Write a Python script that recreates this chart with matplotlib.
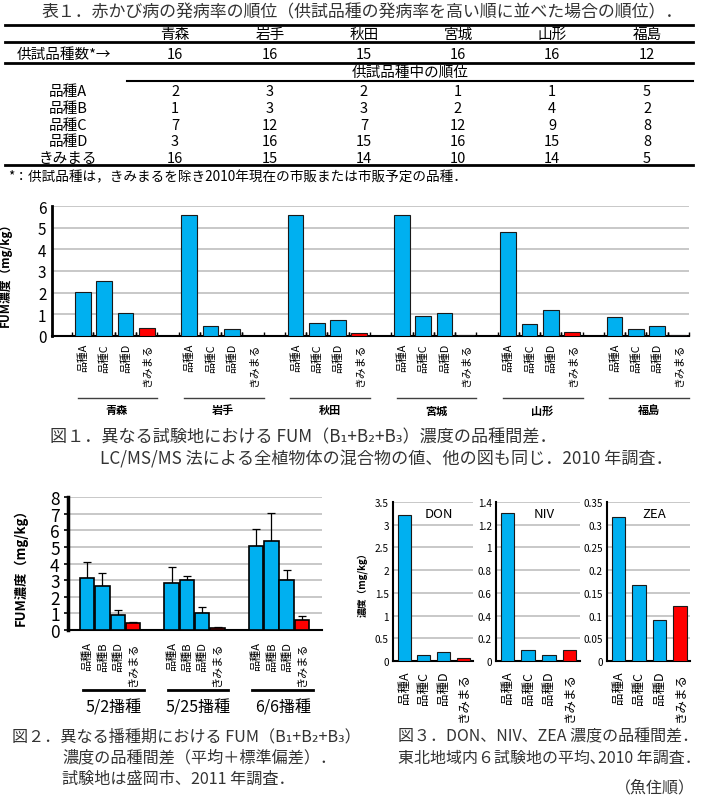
import numpy as np
import matplotlib
matplotlib.use('Agg')
from matplotlib import pyplot as plt

plt.rcParams['font.family'] = ['Noto Sans CJK JP', 'DejaVu Sans']

W, H = 705, 803

# ---- table 1 data ----
prefs = ['青森', '岩手', '秋田', '宮城', '山形', '福島']
n_tested = [16, 16, 15, 16, 16, 12]
table_rows = ['品種A', '品種B', '品種C', '品種D', 'きみまる']
rank_A = [2, 3, 2, 1, 1, 5]
rank_B = [1, 3, 3, 2, 4, 2]
rank_C = [7, 12, 7, 12, 9, 8]
rank_D = [3, 16, 15, 16, 15, 8]
rank_kimi = [16, 15, 14, 10, 14, 5]

# ---- figure 1 data (FUM by site) ----
fig1_cultivars = ['品種A', '品種C', '品種D', 'きみまる']
fig1_A = [2.03, 5.58, 5.57, 5.60, 4.80, 0.89]
fig1_C = [2.52, 0.48, 0.62, 0.93, 0.57, 0.33]
fig1_D = [1.08, 0.33, 0.73, 1.05, 1.21, 0.48]
fig1_kimi = [0.39, 0.02, 0.16, 0.04, 0.17, 0.03]

# ---- figure 2 data (FUM by sowing date, mean and sd) ----
sowing = ['5/2播種', '5/25播種', '6/6播種']
fig2_cultivars = ['品種A', '品種B', '品種D', 'きみまる']
fig2_A = [3.15, 2.80, 5.08]
fig2_A_sd = [0.96, 0.97, 0.97]
fig2_B = [2.64, 3.02, 5.34]
fig2_B_sd = [0.77, 0.25, 1.70]
fig2_D = [0.93, 1.03, 3.00]
fig2_D_sd = [0.28, 0.36, 0.63]
fig2_kimi = [0.40, 0.14, 0.60]
fig2_kimi_sd = [0.08, 0.06, 0.25]

# ---- figure 3 data (DON, NIV, ZEA) ----
fig3_cultivars = ['品種A', '品種C', '品種D', 'きみまる']
don = [3.21, 0.14, 0.20, 0.07]
niv = [1.30, 0.094, 0.05, 0.094]
zea = [0.317, 0.167, 0.090, 0.122]

BLUE = '#00B0F0'
RED = '#FF0000'
EDGE = '#1a1a1a'
GRID = '#BFBFBF'
CAP = '#333333'

fig = plt.figure(figsize=(W / 100, H / 100), dpi=100)

# overlay axes in pixel coordinates for table and captions
ax0 = fig.add_axes([0, 0, 1, 1])
ax0.set_xlim(0, W)
ax0.set_ylim(H, 0)
ax0.axis('off')


def ax_px(l, t, r, b):
    return fig.add_axes([l / W, 1 - b / H, (r - l) / W, (b - t) / H])


# ================= table 1 =================
ax0.text(42, 12, '表１．赤かび病の発病率の順位（供試品種の発病率を高い順に並べた場合の順位）．',
         fontsize=12.2, va='center', ha='left', color=CAP)
for y, x0, lw in [(26, 5, 2), (43, 5, 2), (64, 5, 2), (82, 127, 1.5), (166, 5, 2)]:
    ax0.plot([x0, 693], [y, y], color='black', lw=lw)

col_x = [175, 270, 364, 458, 552, 647]
for x, p in zip(col_x, prefs):
    ax0.text(x, 35, p, fontsize=10.5, ha='center', va='center')
ax0.text(64, 55, '供試品種数*→', fontsize=10.5, ha='center', va='center')
for x, n in zip(col_x, n_tested):
    ax0.text(x, 55, str(n), fontsize=10.5, ha='center', va='center')
ax0.text(410, 73, '供試品種中の順位', fontsize=10.5, ha='center', va='center')
all_ranks = [rank_A, rank_B, rank_C, rank_D, rank_kimi]
row_y = [92, 109, 126, 142, 159]
for y, lab, r in zip(row_y, table_rows, all_ranks):
    ax0.text(68, y, lab, fontsize=10.5, ha='center', va='center')
    for x, v in zip(col_x, r):
        ax0.text(x, y, str(v), fontsize=10.5, ha='center', va='center')
ax0.text(8, 177, '*：供試品種は，きみまるを除き2010年現在の市販または市販予定の品種．',
         fontsize=9.8, ha='left', va='center')

# ================= figure 1 =================
ax1 = ax_px(52, 207, 689, 337)
vals1 = [fig1_A, fig1_C, fig1_D, fig1_kimi]
xs1, hs1, cs1, labs1 = [], [], [], []
for g in range(len(prefs)):
    for i in range(4):
        xs1.append(5 * g + i)
        hs1.append(vals1[i][g])
        cs1.append(RED if i == 3 else BLUE)
        labs1.append(fig1_cultivars[i])
ax1.bar(xs1, hs1, width=0.74, color=cs1, edgecolor=EDGE, lw=0.8, zorder=3)
ax1.set_xlim(-1.45, 28.5)
ax1.set_ylim(0, 6)
ax1.set_yticks(range(7))
ax1.tick_params(axis='y', labelsize=11, length=0, pad=4)
ax1.set_xticks(xs1)
ax1.set_xticklabels(labs1, rotation=90, fontsize=7.8)
ax1.tick_params(axis='x', length=0, pad=5)
ax1.set_xticks([x + d for x in xs1 for d in (-0.5, 0.5)], minor=True)
ax1.tick_params(axis='x', which='minor', length=3, direction='in', width=1)
ax1.grid(axis='y', color=GRID, lw=1.2, zorder=0)
for s in ['top', 'right']:
    ax1.spines[s].set_visible(False)
ax1.spines['left'].set_linewidth(2)
ax1.spines['bottom'].set_linewidth(1.5)
ax1.set_ylabel('FUM濃度（mg/kg）', fontsize=8.5, fontweight='bold')
ax1.yaxis.set_label_coords(-0.063, 0.5)
tr1 = ax1.get_xaxis_transform()
for g, p in enumerate(prefs):
    ax1.plot([5 * g - 0.25, 5 * g + 3.5], [-0.477, -0.477], color='#404040', lw=1,
             transform=tr1, clip_on=False)
    ax1.text(5 * g + 1.6, -0.569, p, transform=tr1, ha='center', va='center',
             fontsize=8, fontweight='bold')

ax0.text(50, 437, '図１．異なる試験地における FUM（B₁+B₂+B₃）濃度の品種間差．',
         fontsize=12.3, ha='left', va='center', color=CAP)
ax0.text(100, 459, 'LC/MS/MS 法による全植物体の混合物の値、他の図も同じ．2010 年調査．',
         fontsize=12.3, ha='left', va='center', color=CAP)

# ================= figure 2 =================
ax2 = ax_px(68, 498, 322, 631)
vals2 = [fig2_A, fig2_B, fig2_D, fig2_kimi]
sds2 = [fig2_A_sd, fig2_B_sd, fig2_D_sd, fig2_kimi_sd]
xs2, hs2, es2, cs2, labs2 = [], [], [], [], []
for g in range(len(sowing)):
    for i in range(4):
        xs2.append(5.5 * g + i)
        hs2.append(vals2[i][g])
        es2.append(sds2[i][g])
        cs2.append(RED if i == 3 else BLUE)
        labs2.append(fig2_cultivars[i])
ax2.errorbar(xs2, hs2, yerr=[np.zeros(len(es2)), es2], fmt='none', ecolor='black',
             elinewidth=0.9, capsize=3, capthick=0.9, zorder=2)
ax2.bar(xs2, hs2, width=0.94, color=cs2, edgecolor='black', lw=1.2, zorder=3)
ax2.set_xlim(-1.24, 15.3)
ax2.set_ylim(0, 8)
ax2.set_yticks(range(9))
ax2.tick_params(axis='y', labelsize=12.5, length=3, width=1.2, pad=3)
ax2.set_xticks(xs2)
ax2.set_xticklabels(labs2, rotation=90, fontsize=8)
ax2.tick_params(axis='x', length=0, pad=8)
ax2.grid(axis='y', color=GRID, lw=1.2, zorder=0)
for s in ['top', 'right']:
    ax2.spines[s].set_visible(False)
ax2.spines['left'].set_linewidth(2.5)
ax2.spines['bottom'].set_linewidth(1.5)
ax2.set_ylabel('FUM濃度（mg/kg）', fontsize=9.5, fontweight='bold')
ax2.yaxis.set_label_coords(-0.157, 0.5)
tr2 = ax2.get_xaxis_transform()
for g, s in enumerate(sowing):
    ax2.plot([5.5 * g - 0.25, 5.5 * g + 3.7], [-0.451, -0.451], color='black', lw=2,
             transform=tr2, clip_on=False)
    ax2.text(5.5 * g + 1.75, -0.579, s, transform=tr2, ha='center', va='center',
             fontsize=11.5)

ax0.text(12, 737, '図２．異なる播種期における FUM（B₁+B₂+B₃）',
         fontsize=11.6, ha='left', va='center', color=CAP)
ax0.text(62, 758, '濃度の品種間差（平均＋標準偏差）．',
         fontsize=11.6, ha='left', va='center', color=CAP)
ax0.text(62, 779, '試験地は盛岡市、2011 年調査．',
         fontsize=11.6, ha='left', va='center', color=CAP)

# ================= figure 3 =================
fig3_sets = [
    ('DON', don, (393, 473), np.arange(0, 3.51, 0.5), 3.5),
    ('NIV', niv, (496, 580), np.arange(0, 1.41, 0.2), 1.4),
    ('ZEA', zea, (607, 690), np.arange(0, 0.351, 0.05), 0.35),
]
for k, (name, vals, (l, r), ticks, top) in enumerate(fig3_sets):
    ax = ax_px(l, 503, r, 662)
    xs = np.arange(len(vals))
    ax.bar(xs, vals, width=0.66, color=[BLUE, BLUE, BLUE, RED], edgecolor=EDGE,
           lw=0.8, zorder=3)
    ax.set_xlim(-0.56, 3.5)
    ax.set_ylim(0, top)
    ax.set_yticks(ticks)
    ax.set_yticklabels(['%g' % round(t, 2) for t in ticks])
    ax.tick_params(axis='y', labelsize=7.2, length=0, pad=3)
    ax.set_xticks(xs)
    ax.set_xticklabels(fig3_cultivars, rotation=90, fontsize=9)
    ax.tick_params(axis='x', length=0, pad=7)
    ax.grid(axis='y', color=GRID, lw=1.2, zorder=0)
    for s in ['top', 'right']:
        ax.spines[s].set_visible(False)
    ax.spines['left'].set_linewidth(1.5)
    ax.spines['bottom'].set_linewidth(1.5)
    ax.text(1.75, 0.93, name, transform=ax.get_xaxis_transform(), ha='center',
            va='center', fontsize=9.5)
    if k == 0:
        ax.set_ylabel('濃度（mg/kg）', fontsize=7, fontweight='bold')
        ax.yaxis.set_label_coords(-0.31, 0.5)

ax0.text(398, 737, '図３．DON、NIV、ZEA 濃度の品種間差．',
         fontsize=11.5, ha='left', va='center', color=CAP)
ax0.text(398, 758, '東北地域内６試験地の平均､2010 年調査．',
         fontsize=11.5, ha='left', va='center', color=CAP)
ax0.text(695, 788, '（魚住順）', fontsize=11.5, ha='right', va='center', color=CAP)

fig.savefig('out.png', dpi=100)
